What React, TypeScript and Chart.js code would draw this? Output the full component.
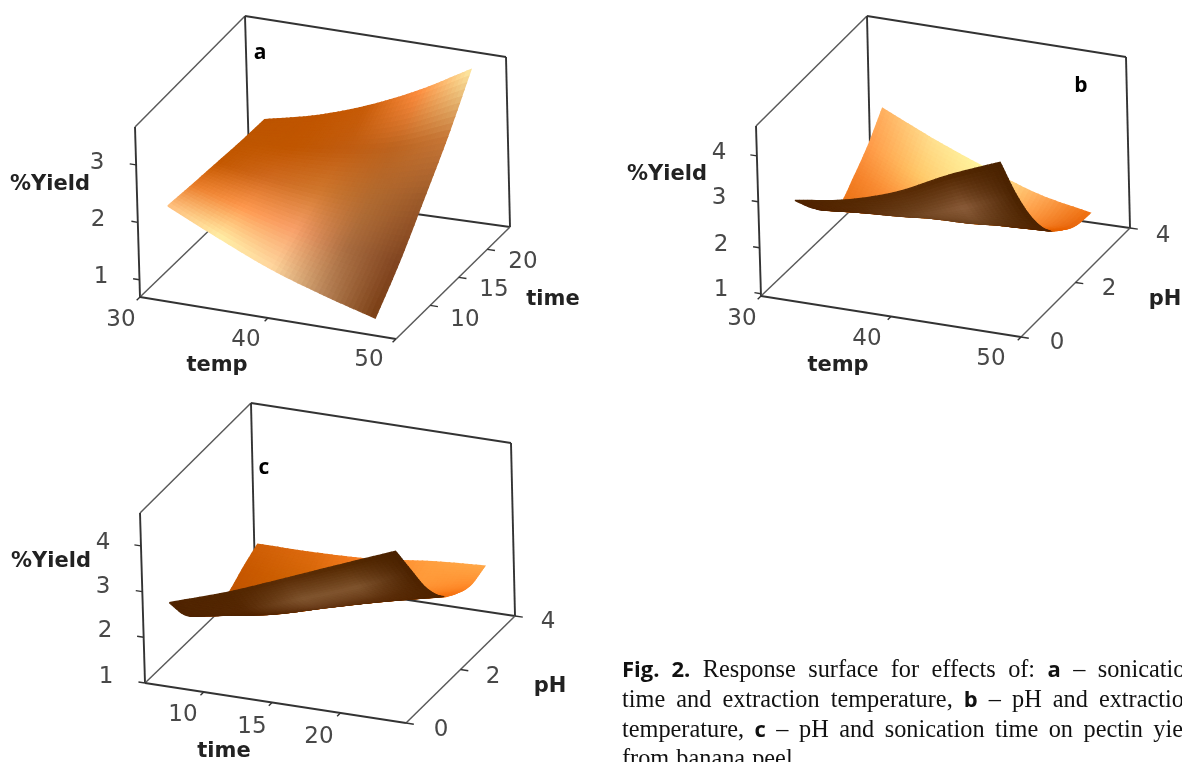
import React, { useEffect, useRef } from "react";
import { Chart, registerables } from "chart.js";

Chart.register(...registerables);

// ---------- data ----------
const TEMP_A = [31.5, 35.5, 39.5, 43.5, 47.5];
const TIME_A = [6, 10.4, 14.8, 19.2, 23.5];
const YIELD_A = [
  [2.15, 1.73, 1.34, 1.04, 0.78],
  [2.1, 1.83, 1.6, 1.42, 1.33],
  [2.06, 1.93, 1.85, 1.85, 1.98],
  [2.02, 2.05, 2.15, 2.33, 2.65],
  [2.0, 2.2, 2.5, 2.9, 3.4],
];
const COLORS_A = [
  ["#FFC080", "#FFF0A8", "#FFD8A0", "#B88458", "#7A3E14"],
  ["#E87C28", "#FF9A50", "#F8A06A", "#A86C40", "#804420"],
  ["#C45800", "#D06A20", "#D0782E", "#B06A30", "#9C5A2A"],
  ["#BE5600", "#C05600", "#C05C10", "#BC6420", "#C87838"],
  ["#BC5400", "#C05500", "#C85C08", "#FF8E40", "#FFEBA4"],
];

const TEMP_B = [31.3, 35.2, 39.2, 43.2, 47.2];
const PH_B = [0.7, 1.23, 1.76, 2.29, 2.82, 3.35, 3.88];
const YIELD_B = [
  [2.68, 2.86, 3.21, 3.75, 4.21],
  [2.23, 2.3, 2.42, 2.76, 3.21],
  [1.86, 1.96, 2.03, 2.1, 2.39],
  [1.67, 1.65, 1.72, 1.75, 1.8],
  [1.97, 1.6, 1.45, 1.42, 1.49],
  [2.34, 1.84, 1.5, 1.28, 1.28],
  [2.82, 2.32, 1.87, 1.47, 1.23],
];
const COLORS_B_TOP = [
  ["#E87010", "#F08030", "#FF9030", "#F08020", "#E06000"],
  ["#E87010", "#F08030", "#FF9030", "#F08020", "#E06000"],
  ["#E87010", "#F08030", "#FF9030", "#F08020", "#E06000"],
  ["#E87010", "#F08030", "#FF9030", "#F08020", "#E06000"],
  ["#F48028", "#FF9A40", "#FFC060", "#FF9A40", "#E86000"],
  ["#FF9A48", "#FFC868", "#FFE890", "#FF9A40", "#E86810"],
  ["#FFB060", "#FFE090", "#FFF8A0", "#FFB060", "#F07010"],
];
const COLORS_B_UNDER = [
  ["#502400", "#542802", "#5A2C06", "#522600", "#4A2200"],
  ["#522400", "#5A2C08", "#6E4420", "#8A5C3A", "#4A2200"],
  ["#522400", "#562804", "#6A3C18", "#6E4420", "#4E2400"],
  ["#522400", "#522400", "#562804", "#5C2E0A", "#522400"],
  ["#522400", "#522400", "#522400", "#522400", "#522400"],
  ["#522400", "#522400", "#522400", "#522400", "#522400"],
  ["#522400", "#522400", "#522400", "#522400", "#522400"],
];

const TIME_C = [6.2, 10.6, 14.8, 19, 22.9];
const PH_C = [0.7, 1.23, 1.76, 2.29, 2.82, 3.35, 3.88];
const YIELD_C = [
  [2.37, 2.8, 3.29, 3.79, 4.25],
  [1.8, 2.12, 2.55, 3.0, 3.52],
  [1.47, 1.7, 2.05, 2.42, 2.82],
  [1.3, 1.42, 1.74, 2.06, 2.33],
  [1.36, 1.3, 1.55, 1.82, 2.09],
  [1.59, 1.45, 1.62, 1.78, 1.96],
  [1.79, 1.79, 1.84, 1.98, 2.06],
];
const COLORS_C_TOP = [
  ["#C05000", "#C85800", "#E06808", "#F07010", "#F07010"],
  ["#C05000", "#C85800", "#E06808", "#F07010", "#F07010"],
  ["#C05000", "#C85800", "#E06808", "#F07010", "#F07010"],
  ["#C05000", "#C85800", "#E06808", "#F07010", "#F07010"],
  ["#C05400", "#CC5C00", "#E87010", "#F88020", "#F87818"],
  ["#C85800", "#D06404", "#F07818", "#FF9838", "#FF8C2C"],
  ["#D06008", "#E06C10", "#FF8428", "#FFA040", "#FFA848"],
];
const COLORS_C_UNDER = [
  ["#502400", "#522600", "#5A2C06", "#542800", "#4A2200"],
  ["#502400", "#562804", "#80552F", "#80552F", "#4C2200"],
  ["#502400", "#522400", "#6A3C1A", "#60320E", "#502400"],
  ["#502400", "#502400", "#562804", "#562804", "#502400"],
  ["#502400", "#502400", "#502400", "#502400", "#502400"],
  ["#502400", "#502400", "#502400", "#502400", "#502400"],
  ["#502400", "#502400", "#502400", "#502400", "#502400"],
];

const YIELD_TICKS_A = [1, 2, 3];
const YIELD_TICKS_BC = [1, 2, 3, 4];
const TEMP_TICKS = [30, 40, 50];
const TIME_TICKS_A = [10, 15, 20];
const TIME_TICKS_C = [10, 15, 20];
const PH_TICKS = [0, 2, 4];

// ---------- panel geometry (pixel layout of each 3D box) ----------
type P = [number, number];
const PANELS = [
  {
    xs: TEMP_A, ys: TIME_A, zs: YIELD_A, top: COLORS_A, under: COLORS_A,
    xRange: [30, 50], yRange: [4, 24], zRange: [0.7, 3.66],
    fl: [140, 297] as P, fr: [396, 339] as P, bl: [250, 191] as P, br: [510, 227] as P,
    flT: [135, 127] as P, frT: [391, 169] as P, blT: [245, 16] as P, brT: [506, 57] as P,
    xTicks: TEMP_TICKS, yTicks: TIME_TICKS_A, zTicks: YIELD_TICKS_A,
    xPos: [[121, 320], [246, 340], [369, 360]], yPos: [[465, 320], [494, 290], [523, 262]],
    zPos: [[101, 277], [98, 220], [97, 163]],
    xTitle: "temp", xTitlePos: [217, 366], yTitle: "time", yTitlePos: [553, 300],
    zTitlePos: [50, 185], letter: "a", letterPos: [260, 53],
  },
  {
    xs: TEMP_B, ys: PH_B, zs: YIELD_B, top: COLORS_B_TOP, under: COLORS_B_UNDER,
    xRange: [30, 50], yRange: [0, 4], zRange: [0.95, 4.65],
    fl: [761, 296] as P, fr: [1021, 337] as P, bl: [871, 191] as P, br: [1130, 228] as P,
    flT: [756, 126] as P, frT: [1017, 167] as P, blT: [867, 16] as P, brT: [1126, 57] as P,
    xTicks: TEMP_TICKS, yTicks: PH_TICKS, zTicks: YIELD_TICKS_BC,
    xPos: [[742, 319], [867, 339], [991, 359]], yPos: [[1057, 343], [1109, 289], [1163, 236]],
    zPos: [[721, 290], [721, 245], [719, 198], [719, 153]],
    xTitle: "temp", xTitlePos: [838, 366], yTitle: "pH", yTitlePos: [1165, 300],
    zTitlePos: [667, 175], letter: "b", letterPos: [1081, 86],
  },
  {
    xs: TIME_C, ys: PH_C, zs: YIELD_C, top: COLORS_C_TOP, under: COLORS_C_UNDER,
    xRange: [5.7, 24.8], yRange: [0, 4], zRange: [1, 4.72],
    fl: [145, 683] as P, fr: [406, 723] as P, bl: [255, 577] as P, br: [515, 616] as P,
    flT: [140, 513] as P, frT: [402, 553] as P, blT: [251, 403] as P, brT: [511, 443] as P,
    xTicks: TIME_TICKS_C, yTicks: PH_TICKS, zTicks: YIELD_TICKS_BC,
    xPos: [[183, 715], [252, 727], [319, 737]], yPos: [[441, 730], [493, 677], [548, 622]],
    zPos: [[106, 677], [105, 631], [103, 587], [103, 543]],
    xTitle: "time", xTitlePos: [224, 752], yTitle: "pH", yTitlePos: [550, 687],
    zTitlePos: [51, 562], letter: "c", letterPos: [264, 468],
  },
];

const REFINE_U = 12;
const REFINE_V = 10;

type Panel = (typeof PANELS)[number];

function mix(a: P, b: P, t: number): P {
  return [a[0] + (b[0] - a[0]) * t, a[1] + (b[1] - a[1]) * t];
}
function project(p: Panel, u: number, v: number, w: number): P {
  const bottom = mix(mix(p.fl, p.fr, u), mix(p.bl, p.br, u), v);
  const top = mix(mix(p.flT, p.frT, u), mix(p.blT, p.brT, u), v);
  return mix(bottom, top, w);
}
function cr(a: number, b: number, c: number, d: number, t: number) {
  return 0.5 * (2 * b + (c - a) * t + (2 * a - 5 * b + 4 * c - d) * t * t + (3 * b - a - 3 * c + d) * t * t * t);
}
function pick(arr: number[], k: number) {
  if (k < 0) return 2 * arr[0] - arr[1];
  if (k >= arr.length) return 2 * arr[arr.length - 1] - arr[arr.length - 2];
  return arr[k];
}
function smoothAt(grid: number[][], i: number, j: number) {
  const nR = grid.length, nC = grid[0].length;
  const r0 = Math.min(Math.floor(j), nR - 2), c0 = Math.min(Math.floor(i), nC - 2);
  const tr = j - r0, tc = i - c0;
  const perRow = grid.map((row) => cr(pick(row, c0 - 1), row[c0], row[c0 + 1], pick(row, c0 + 2), tc));
  return cr(pick(perRow, r0 - 1), perRow[r0], perRow[r0 + 1], pick(perRow, r0 + 2), tr);
}
function rgbOf(hex: string) {
  return [1, 3, 5].map((k) => parseInt(hex.slice(k, k + 2), 16));
}
function colorAt(grid: string[][], i: number, j: number) {
  const nR = grid.length, nC = grid[0].length;
  const r0 = Math.min(Math.floor(j), nR - 2), c0 = Math.min(Math.floor(i), nC - 2);
  const tr = j - r0, tc = i - c0;
  const a = rgbOf(grid[r0][c0]), b = rgbOf(grid[r0][c0 + 1]);
  const c = rgbOf(grid[r0 + 1][c0]), d = rgbOf(grid[r0 + 1][c0 + 1]);
  const out = a.map((_, k) => Math.round((a[k] * (1 - tc) + b[k] * tc) * (1 - tr) + (c[k] * (1 - tc) + d[k] * tc) * tr));
  return `rgb(${out[0]},${out[1]},${out[2]})`;
}
function lerpIdx(arr: number[], i: number) {
  const k = Math.min(Math.floor(i), arr.length - 2);
  return arr[k] + (arr[k + 1] - arr[k]) * (i - k);
}

function lineDs(pts: P[], color: string, width: number) {
  return {
    data: pts.map(([x, y]) => ({ x, y })),
    showLine: true, borderColor: color, borderWidth: width, pointRadius: 0, fill: false, tension: 0, clip: false,
  };
}

function buildPanel(p: Panel) {
  const out: any[] = [];
  const dark = "#333333", mid = "#5a5a5a";
  out.push(lineDs([p.flT, p.blT], mid, 1.5));
  out.push(lineDs([p.blT, p.brT], dark, 1.9));
  out.push(lineDs([p.blT, p.bl], dark, 1.9));
  out.push(lineDs([p.brT, p.br], dark, 1.9));
  out.push(lineDs([p.flT, p.fl], dark, 1.9));
  out.push(lineDs([p.fl, p.bl], mid, 1.5));
  out.push(lineDs([p.bl, p.br], dark, 1.9));
  out.push(lineDs([p.fl, p.fr], dark, 1.9));
  out.push(lineDs([p.fr, p.br], mid, 1.5));
  const norm = (v: number, r: number[]) => (v - r[0]) / (r[1] - r[0]);
  p.zTicks.forEach((z) => {
    const w = norm(z, p.zRange);
    out.push(lineDs([project(p, 0, 0, w), project(p, -0.025, 0, w)], dark, 1.4));
  });
  p.xTicks.forEach((x) => {
    const u = norm(x, p.xRange);
    out.push(lineDs([project(p, u, 0, 0), project(p, u, -0.03, 0)], dark, 1.4));
  });
  p.yTicks.forEach((y) => {
    const v = norm(y, p.yRange);
    out.push(lineDs([project(p, 1, v, 0), project(p, 1.03, v, 0)], dark, 1.4));
  });

  const nU = (p.xs.length - 1) * REFINE_U;
  const nV = (p.ys.length - 1) * REFINE_V;
  const node = (iu: number, iv: number): P => {
    const i = iu / REFINE_U, j = iv / REFINE_V;
    return project(
      p,
      norm(lerpIdx(p.xs, i), p.xRange),
      norm(lerpIdx(p.ys, j), p.yRange),
      norm(smoothAt(p.zs, i, j), p.zRange),
    );
  };
  for (let iv = nV - 1; iv >= 0; iv--) {
    for (let iu = 0; iu < nU; iu++) {
      const a = node(iu, iv), b = node(iu + 1, iv), c = node(iu + 1, iv + 1), d = node(iu, iv + 1);
      const area = (c[0] - a[0]) * (d[1] - b[1]) - (c[1] - a[1]) * (d[0] - b[0]);
      const i = (iu + 0.5) / REFINE_U, j = (iv + 0.5) / REFINE_V;
      const col = colorAt(area < 0 ? p.top : p.under, i, j);
      out.push({
        data: [a, b, c, d, a].map(([x, y]) => ({ x, y })),
        showLine: true, borderColor: col, borderWidth: 1.4, backgroundColor: col,
        pointRadius: 0, fill: "shape", tension: 0, clip: false,
      });
    }
  }
  return out;
}

const labelsPlugin = {
  id: "panelLabels",
  afterDraw(chart: any) {
    const { ctx, scales } = chart;
    const at = (pos: number[]) => [scales.x.getPixelForValue(pos[0]), scales.y.getPixelForValue(pos[1])];
    const put = (t: string, pos: number[], font: string, color: string) => {
      const [x, y] = at(pos);
      ctx.font = font;
      ctx.fillStyle = color;
      ctx.fillText(t, x, y);
    };
    ctx.save();
    ctx.textAlign = "center";
    ctx.textBaseline = "middle";
    const tickFont = '23px "DejaVu Sans"';
    const titleFont = 'bold 21px "DejaVu Sans"';
    PANELS.forEach((p) => {
      p.xTicks.forEach((t, i) => put(String(t), p.xPos[i], tickFont, "#484848"));
      p.yTicks.forEach((t, i) => put(String(t), p.yPos[i], tickFont, "#484848"));
      p.zTicks.forEach((t, i) => put(String(t), p.zPos[i], tickFont, "#484848"));
      put(p.xTitle, p.xTitlePos, titleFont, "#222");
      put(p.yTitle, p.yTitlePos, titleFont, "#222");
      put("%Yield", p.zTitlePos, titleFont, "#222");
      put(p.letter, p.letterPos, 'bold 21px "Open Sans"', "#000");
    });
    ctx.restore();
  },
};

const SANS_BOLD: React.CSSProperties = { fontFamily: '"Open Sans"', fontWeight: 700, fontSize: 22 };

function Line({ top, spacing, children }: { top: number; spacing: number; children: React.ReactNode }) {
  return (
    <div
      style={{
        position: "absolute", left: 622, top, whiteSpace: "nowrap", fontFamily: '"Liberation Serif"',
        fontSize: 24.3, lineHeight: "30px", color: "#111", wordSpacing: spacing,
      }}
    >
      {children}
    </div>
  );
}

export default function App() {
  const ref = useRef<HTMLCanvasElement>(null);
  useEffect(() => {
    const datasets = PANELS.flatMap(buildPanel).reverse();
    const chart = new Chart(ref.current as HTMLCanvasElement, {
      type: "scatter",
      data: { datasets },
      options: {
        animation: false,
        responsive: false,
        events: [],
        layout: { padding: 0 },
        scales: {
          x: { type: "linear", min: 0, max: 1182, display: false },
          y: { type: "linear", min: 0, max: 762, reverse: true, display: false },
        },
        plugins: { legend: { display: false }, tooltip: { enabled: false } },
      },
      plugins: [labelsPlugin],
    } as any);
    return () => chart.destroy();
  }, []);
  return (
    <div style={{ position: "fixed", left: 0, top: 0, width: 1182, height: 762, overflow: "hidden", background: "#fff" }}>
      <canvas ref={ref} width={1182} height={762} style={{ display: "block" }} />
      <Line top={653} spacing={6.3}>
        <span style={SANS_BOLD}>Fig. 2.</span> Response surface for effects of: <span style={SANS_BOLD}>a</span> – sonication
      </Line>
      <Line top={683} spacing={5}>
        time and extraction temperature, <span style={SANS_BOLD}>b</span> – pH and extraction
      </Line>
      <Line top={713} spacing={4.4}>
        temperature, <span style={SANS_BOLD}>c</span> – pH and sonication time on pectin yield
      </Line>
      <Line top={743} spacing={1}>
        from banana peel
      </Line>
    </div>
  );
}
